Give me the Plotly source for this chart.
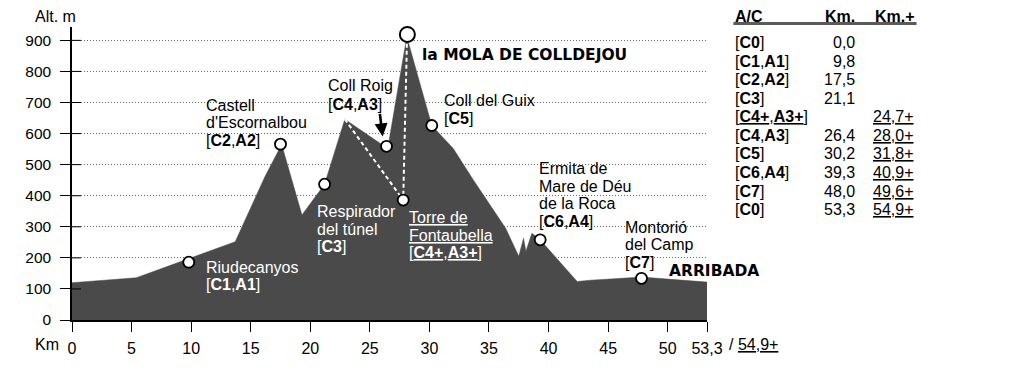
import plotly.graph_objects as go

# ---------------- data ----------------
profile_km = [0, 5.4, 13.7, 16.2, 17.6, 18.3, 19.3, 21.2, 22.9, 26.5, 28.1, 30.2,
              32.0, 33.7, 36.4, 37.5, 37.9, 38.1, 38.6, 39.3, 42.4, 43.5, 47.8, 53.3]
profile_alt = [120, 136, 252, 462, 565, 472, 338, 437, 646, 552, 912, 626,
               552, 450, 295, 205, 263, 221, 279, 258, 124, 128, 138, 122]

waypoint_km = [9.8, 17.5, 21.2, 26.4, 27.8, 30.2, 39.3, 47.8]
waypoint_alt = [186, 566, 437, 559, 386, 626, 258, 134]

summit_km = [28.15]
summit_alt = [919]

branch_km = [22.9, 27.8, 28.12]
branch_alt = [646, 386, 905]

y_ticks = [0, 100, 200, 300, 400, 500, 600, 700, 800, 900]
x_ticks = [0, 5, 10, 15, 20, 25, 30, 35, 40, 45, 50, 53.3]
x_ticktext = ["0", "5", "10", "15", "20", "25", "30", "35", "40", "45", "50", "53,3"]

table_labels = ["[<b>C0</b>]", "[<b>C1</b>,<b>A1</b>]", "[<b>C2</b>,<b>A2</b>]", "[<b>C3</b>]",
                "[<u><b>C4+</b></u>,<u><b>A3+</b></u>]", "[<b>C4</b>,<b>A3</b>]", "[<b>C5</b>]",
                "[<b>C6</b>,<b>A4</b>]", "[<b>C7</b>]", "[<b>C0</b>]"]
table_km = ["0,0", "9,8", "17,5", "21,1", "", "26,4", "30,2", "39,3", "48,0", "53,3"]
table_km_plus = ["", "", "", "", "24,7+", "28,0+", "31,8+", "40,9+", "49,6+", "54,9+"]

# ---------------- layout geometry (page pixels) ----------------
OFF = 8  # default body margin of the html page
W, H = 1024 - OFF, 369 - OFF
AX_L, AX_R = 72, 706.6      # page px of km 0 and km 53.3
AX_B, AX_T = 327, 27        # page px of alt 0 and top of axis
ML = AX_L - OFF
MT = AX_T - OFF
MB = H - (AX_B - OFF)
MR = W - (AX_R - OFF)
X_MAX = 53.3
Y_MAX = 943

def kx(px):
    return (px - AX_L) * X_MAX / (AX_R - AX_L)

def ay(py):
    return (AX_B - py) * Y_MAX / (AX_B - AX_T)

def xp(px):
    return (px - AX_L) / (AX_R - AX_L)

def yp(py):
    return (AX_B - py) / (AX_B - AX_T)

FONT = "Liberation Sans, Arial, sans-serif"
BOLDFONT = "DejaVu Sans, sans-serif"
FILL = "#4a4a4a"

fig = go.Figure()

# terrain
fig.add_trace(go.Scatter(x=profile_km, y=profile_alt, mode="lines", fill="tozeroy",
                         fillcolor=FILL, line=dict(color=FILL, width=0.5),
                         hoverinfo="skip", showlegend=False))

# short tick continuations across the y axis
seg_x, seg_y = [], []
for t in y_ticks[1:]:
    seg_x += [0, kx(81), None]
    seg_y += [t, t, None]
fig.add_trace(go.Scatter(x=seg_x, y=seg_y, mode="lines", line=dict(color="black", width=1),
                         hoverinfo="skip", showlegend=False, cliponaxis=False))

# white dashed branch
fig.add_trace(go.Scatter(x=branch_km, y=branch_alt, mode="lines",
                         line=dict(color="white", width=2, dash="4px,3px"),
                         hoverinfo="skip", showlegend=False))

# waypoints
fig.add_trace(go.Scatter(x=waypoint_km, y=waypoint_alt, mode="markers",
                         marker=dict(size=11, color="white", line=dict(color="black", width=1.8)),
                         hoverinfo="skip", showlegend=False, cliponaxis=False))
fig.add_trace(go.Scatter(x=summit_km, y=summit_alt, mode="markers",
                         marker=dict(size=15, color="white", line=dict(color="black", width=2)),
                         hoverinfo="skip", showlegend=False, cliponaxis=False))

ann = []

def label(px, py, text, color="black", size=16, family=FONT):
    ann.append(dict(x=kx(px), y=ay(py), xref="x", yref="y", text=text, showarrow=False,
                    xanchor="left", yanchor="middle", font=dict(family=family, size=size, color=color)))

# black labels
label(204, 107, "Castell")
label(204, 125, "d'Escornalbou")
label(204, 143, "[<b>C2</b>,<b>A2</b>]")
label(326, 87, "Coll Roig")
label(326, 106, "[<b>C4</b>,<b>A3</b>]")
label(420, 56, "<b>la MOLA DE COLLDEJOU</b>", size=15.5, family=BOLDFONT)
label(442, 102, "Coll del Guix")
label(442, 121, "[<b>C5</b>]")
label(537, 171.5, "Ermita de")
label(537, 190, "Mare de Déu")
label(537, 208, "de la Roca")
label(537, 226, "[<b>C6</b>,<b>A4</b>]")
label(623, 232, "Montorió")
label(623, 250, "del Camp")
label(623, 268, "[<b>C7</b>]")
label(667, 277, "<b>ARRIBADA</b>", size=15.5, family=BOLDFONT)
# white labels
label(204, 273, "Riudecanyos", color="white")
label(204, 291, "[<b>C1</b>,<b>A1</b>]", color="white")
label(315, 216, "Respirador", color="white")
label(315, 234, "del túnel", color="white")
label(315, 252, "[<b>C3</b>]", color="white")
label(407, 222, "<u>Torre de</u>", color="white")
label(407, 240, "<u>Fontaubella</u>", color="white")
label(407, 258, "[<u><b>C4+</b></u>,<u><b>A3+</b></u>]", color="white")

# arrow to Coll Roig
ann.append(dict(x=kx(382.5), y=ay(139), xref="x", yref="y", ax=-3, ay=-24, text="",
                showarrow=True, arrowhead=2, arrowsize=1, arrowwidth=2.6, arrowcolor="black",
                standoff=0))

# axis titles and free text
def ptext(px, py, text, xanchor="left", size=16, family=FONT):
    ann.append(dict(x=xp(px), y=yp(py), xref="paper", yref="paper", text=text, showarrow=False,
                    xanchor=xanchor, yanchor="middle", font=dict(family=family, size=size, color="black")))

ptext(33, 16, "Alt. m")
ptext(61, 352, "Km", xanchor="right")
ptext(727, 352, "/ <u>54,9+</u>")

# table
ptext(733, 16, "<b>A/C</b>")
ptext(857, 16, "<b>Km.</b>", xanchor="right")
ptext(916, 16, "<b>Km.+</b>", xanchor="right")
row_y0, row_dy = 43, 19.0
for i, (lab, km, kmp) in enumerate(zip(table_labels, table_km, table_km_plus)):
    y = row_y0 + i * row_dy
    ptext(733, y, lab)
    if km:
        ptext(857, y, km, xanchor="right")
    if kmp:
        ptext(914, y, "<u>" + kmp + "</u>", xanchor="right")

shapes = [dict(type="line", xref="paper", yref="paper", x0=xp(733), x1=xp(916),
               y0=yp(23.5), y1=yp(23.5), line=dict(color="#5a5a5a", width=3))]

fig.update_layout(
    width=W, height=H, autosize=False,
    margin=dict(l=ML, r=MR, t=MT, b=MB, pad=0),
    paper_bgcolor="white", plot_bgcolor="white",
    annotations=ann, shapes=shapes,
    xaxis=dict(range=[0, X_MAX], tickvals=x_ticks, ticktext=x_ticktext, showgrid=False,
               zeroline=False, showline=True, linecolor="black", linewidth=1.5,
               ticks="outside", ticklen=10, tickwidth=1, tickcolor="black",
               ticklabelstandoff=3,
               tickfont=dict(family=FONT, size=16, color="black"), fixedrange=True),
    yaxis=dict(range=[0, Y_MAX], tickvals=y_ticks, showgrid=True, gridcolor="#6a6a6a",
               griddash="1px,2px", gridwidth=1, zeroline=False, showline=True, linecolor="black",
               linewidth=1.5, ticks="outside", ticklen=10, tickwidth=1, tickcolor="black",
               ticklabelstandoff=6,
               tickfont=dict(family=FONT, size=15.5, color="black"), fixedrange=True),
    font=dict(family=FONT),
)

fig.write_html("out.html", config={"displayModeBar": False})
